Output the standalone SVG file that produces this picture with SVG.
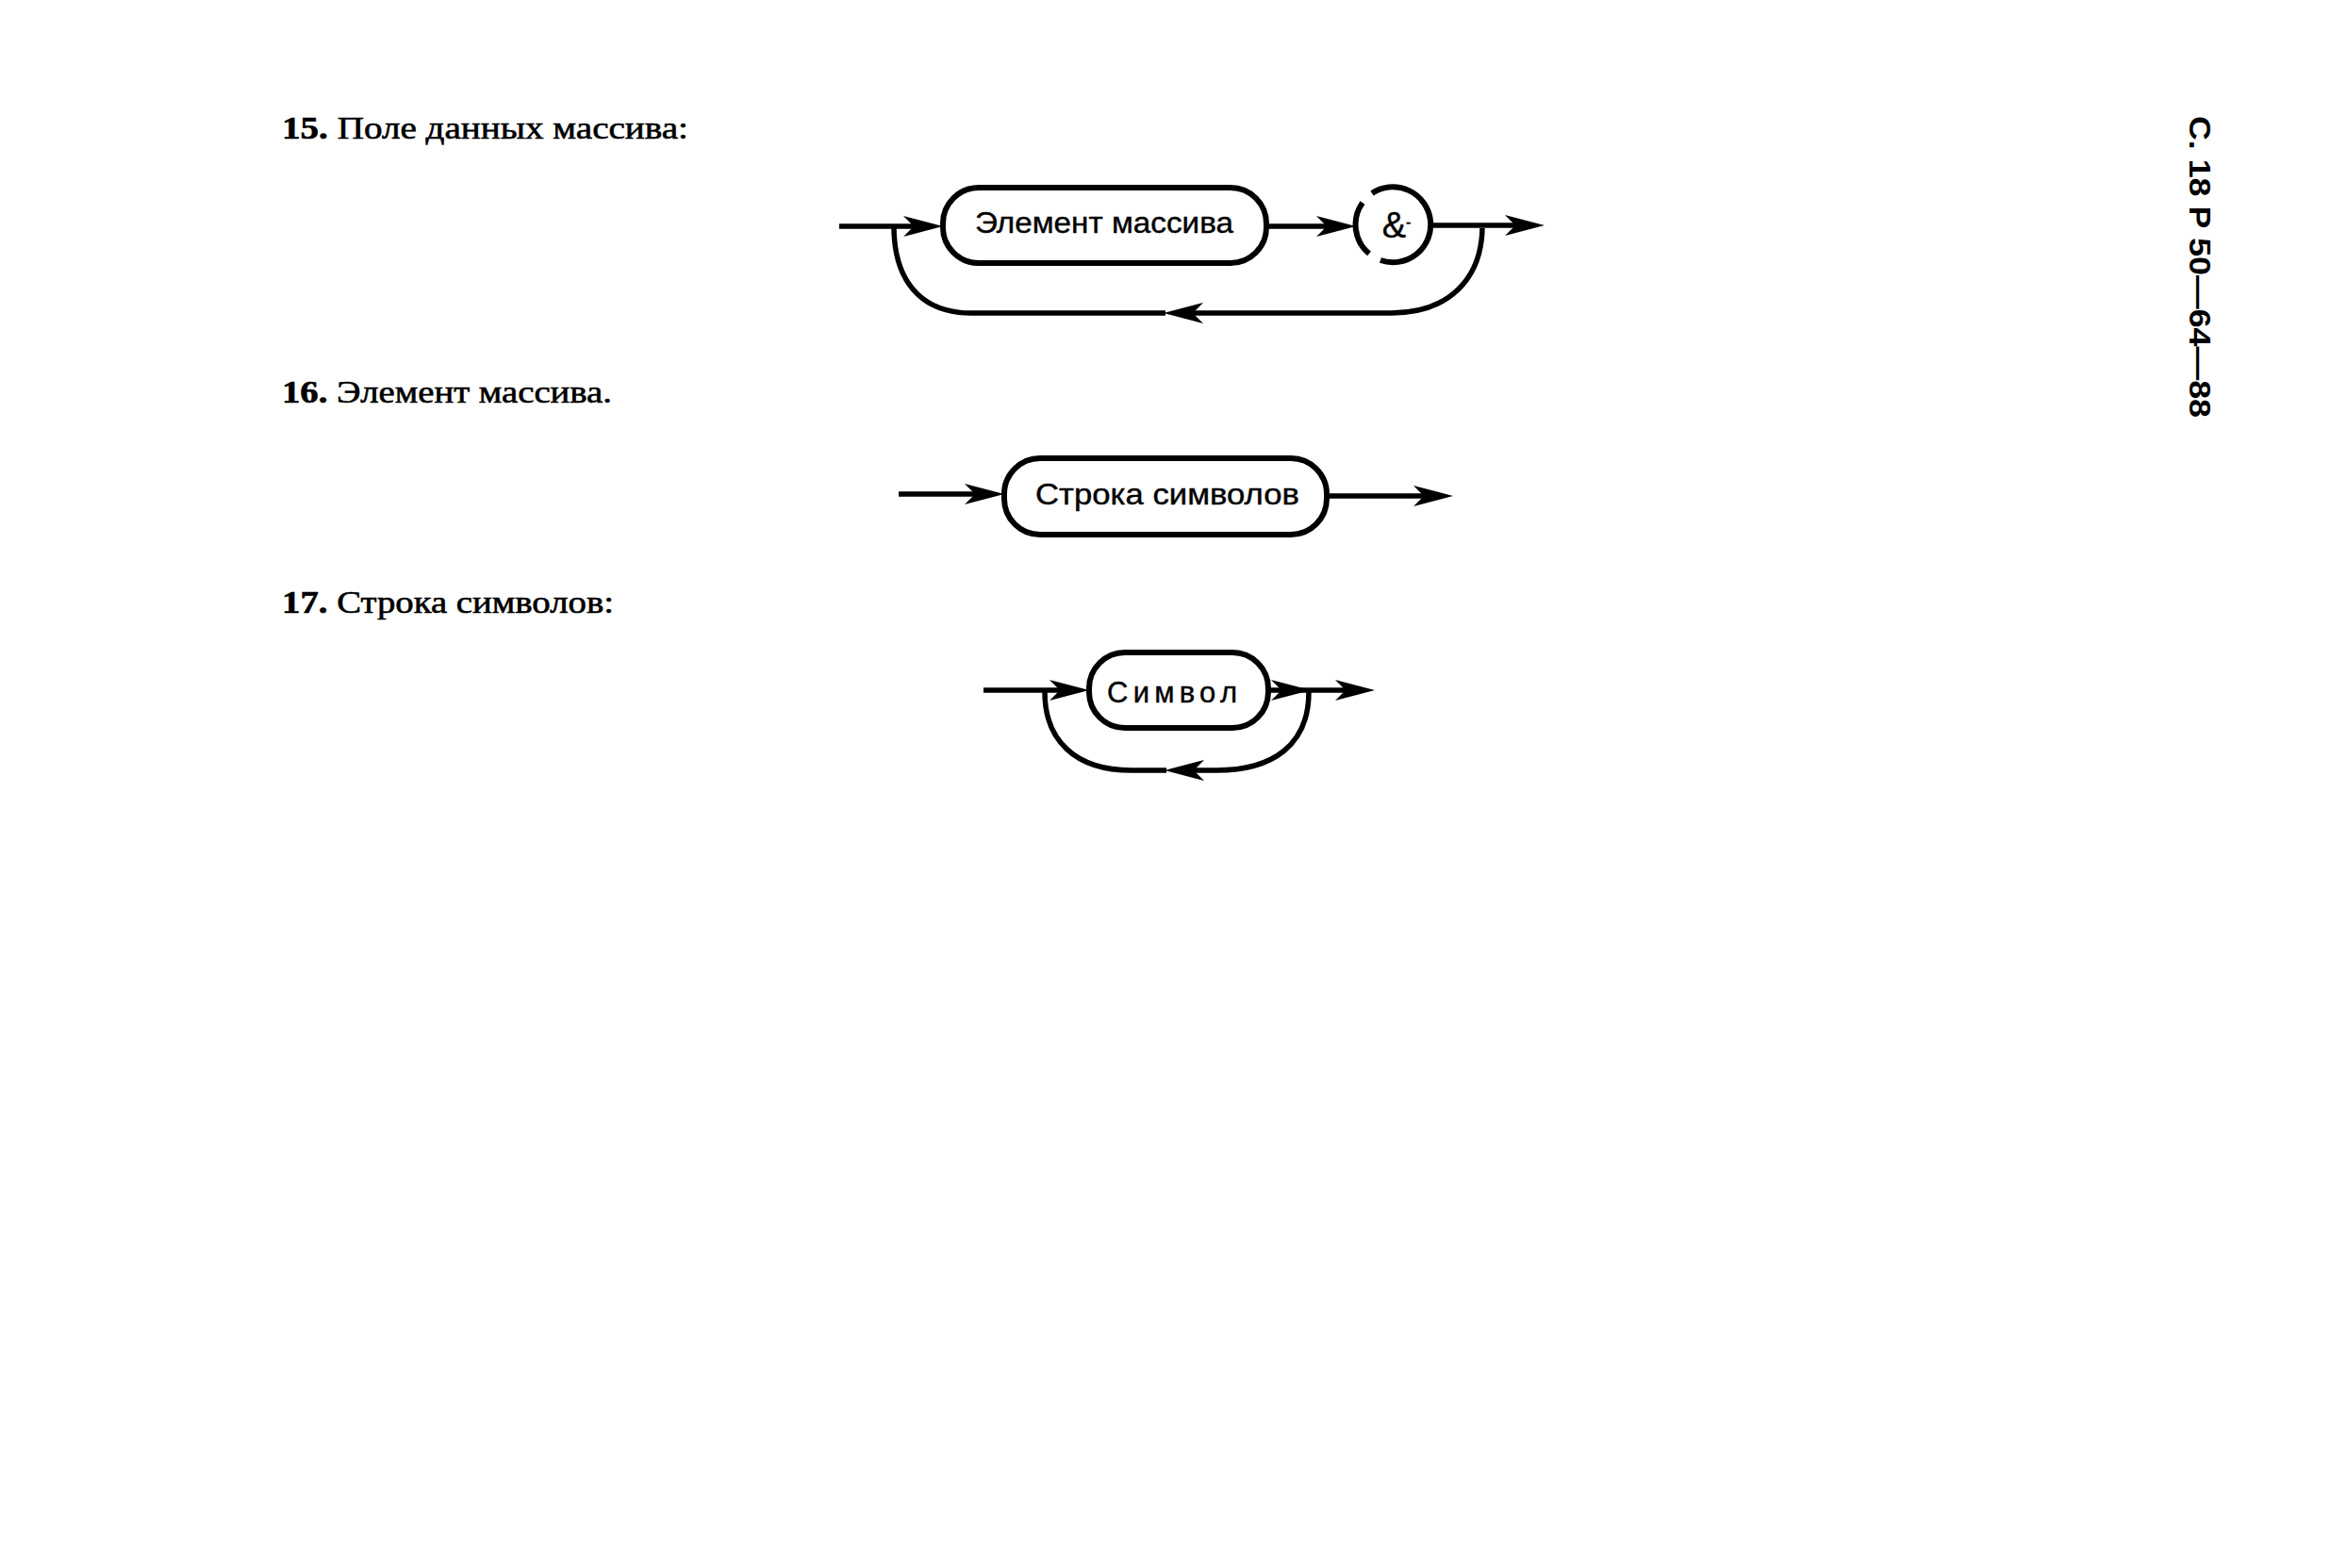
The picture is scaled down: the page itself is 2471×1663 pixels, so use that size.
<svg xmlns="http://www.w3.org/2000/svg" width="2471" height="1663" viewBox="0 0 2471 1663">
<defs>
<marker id="ah" markerUnits="userSpaceOnUse" viewBox="-44 -12 46 24" refX="-12" refY="0" markerWidth="46" markerHeight="24" orient="auto">
<path d="M0,0 L-42,-11 L-31,0 L-42,11 Z" fill="#000"/>
</marker>
</defs>
<style>
.head{font-family:"Liberation Serif","DejaVu Serif",serif;font-size:33px;fill:#000;stroke:#000;stroke-width:0.6}
.lab{font-family:"Liberation Sans",Arial,sans-serif;font-size:31px;fill:#000;text-anchor:middle;stroke:#000;stroke-width:0.4}
.amp{font-size:38px}
.box{fill:none;stroke:#000;stroke-width:6}
.ln{fill:none;stroke:#000;stroke-width:5.5;stroke-linecap:butt}
.arr{marker-end:url(#ah)}
.side{font-family:"Liberation Sans",Arial,sans-serif;font-size:32px;font-weight:bold;fill:#000}
</style>
<rect width="2471" height="1663" fill="#fff"/>

<text class="head" x="299" y="147" textLength="431" lengthAdjust="spacingAndGlyphs"><tspan font-weight="bold">15.</tspan> Поле данных массива:</text>
<text class="head" x="299" y="427" textLength="350" lengthAdjust="spacingAndGlyphs"><tspan font-weight="bold">16.</tspan> Элемент массива.</text>
<text class="head" x="299" y="650" textLength="352" lengthAdjust="spacingAndGlyphs"><tspan font-weight="bold">17.</tspan> Строка символов:</text>

<text class="side" transform="translate(2322,123) rotate(90)" x="0" y="0" textLength="320" lengthAdjust="spacingAndGlyphs">С. 18 Р 50—64—88</text>

<g id="connectors">
<!-- diagram 15 -->
<path class="ln arr" d="M890,240 H988"/>
<path class="ln arr" d="M1343,240 H1426"/>
<path class="ln arr" d="M1518,239 H1626"/>
<path class="ln arr" d="M1572,242 C1571,296 1536,332 1476,332 H1246"/>
<path class="ln" d="M1236,332 H1030 C975,332 948,296 948,240"/>
<!-- diagram 16 -->
<path class="ln arr" d="M953,524 H1053"/>
<path class="ln arr" d="M1407,526 H1529"/>
<!-- diagram 17 -->
<path class="ln arr" d="M1043,732 H1143"/>
<path class="ln arr" d="M1345,732 H1378"/>
<path class="ln arr" d="M1378,732 H1446"/>
<path class="ln arr" d="M1388,734 C1388,790 1350,817 1290,817 H1247"/>
<path class="ln" d="M1237,817 H1200 C1140,817 1108,785 1108,734"/>
</g>

<g id="node-element-massiva">
<rect class="box" x="1000" y="199" width="343" height="80" rx="38"/>
<text class="lab" x="1171" y="247" textLength="274" lengthAdjust="spacingAndGlyphs">Элемент массива</text>
</g>
<g id="node-amp">
<path class="box" d="M1452,269 A40,40 0 0 1 1445,215"/>
<path class="box" d="M1455,205 A40,40 0 1 1 1464,276"/>
<text class="lab amp" x="1481" y="252">&amp;<tspan style="font-size:16px" dy="-11">-</tspan></text>
</g>
<g id="node-stroka">
<rect class="box" x="1065" y="486" width="342" height="81" rx="38"/>
<text class="lab" x="1238" y="535" textLength="280" lengthAdjust="spacingAndGlyphs">Строка символов</text>
</g>
<g id="node-simvol">
<rect class="box" x="1155" y="692" width="190" height="80" rx="38"/>
<text class="lab" x="1243" y="745" textLength="138" lengthAdjust="spacing">Символ</text>
</g>
</svg>
